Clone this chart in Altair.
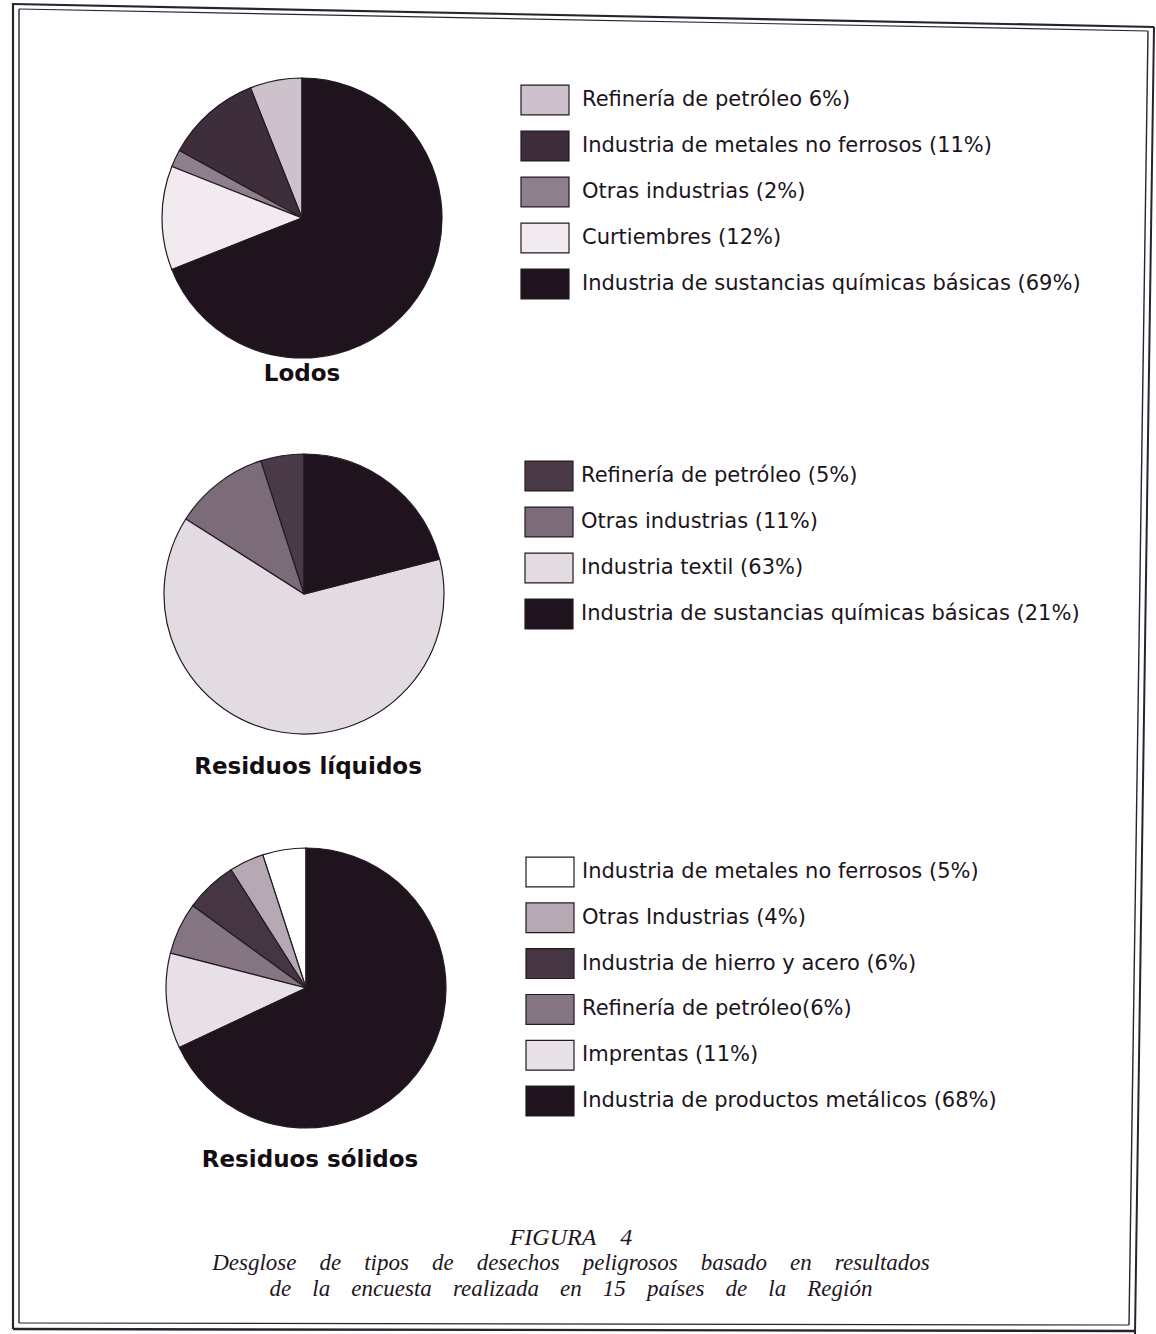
import altair as alt
import pandas as pd

# ---- Lodos ----
lodos_labels = [
    "Refinería de petróleo 6%)",
    "Industria de metales no ferrosos (11%)",
    "Otras industrias (2%)",
    "Curtiembres (12%)",
    "Industria de sustancias químicas básicas (69%)",
]
lodos_shares = [6, 11, 2, 12, 69]
lodos_colors = ["#cdc1cc", "#3e2e3c", "#8e7f8c", "#f1ebf0", "#1f141e"]

# ---- Residuos líquidos ----
liquidos_labels = [
    "Refinería de petróleo (5%)",
    "Otras industrias (11%)",
    "Industria textil (63%)",
    "Industria de sustancias químicas básicas (21%)",
]
liquidos_shares = [5, 11, 63, 21]
liquidos_colors = ["#4a3a48", "#7c6c7a", "#e3dbe2", "#1f141e"]

# ---- Residuos sólidos ----
solidos_labels = [
    "Industria de metales no ferrosos (5%)",
    "Otras Industrias (4%)",
    "Industria de hierro y acero (6%)",
    "Refinería de petróleo(6%)",
    "Imprentas (11%)",
    "Industria de productos metálicos (68%)",
]
solidos_shares = [5, 4, 6, 6, 11, 68]
solidos_colors = ["#ffffff", "#b6a9b4", "#463644", "#867684", "#e7e0e6", "#1f141e"]

INK = "#241a23"
RADIUS = 140
ROW_STEP = 46
SWATCH = "M-1,-0.62H1V0.62H-1Z"


def panel(labels, shares, colors, title, pie_xy, title_xy, swatch_x, text_x, row0, step=ROW_STEP):
    n = len(labels)
    df = pd.DataFrame({
        "label": labels,
        "share": shares,
        "color": colors,
        "row": list(range(n)),
    })
    # slices run clockwise from 12 o'clock, starting with the last legend entry
    df["slice"] = n - 1 - df["row"]
    base = alt.Chart(df)

    pie = base.mark_arc(radius=RADIUS, stroke=INK, strokeWidth=1.2).encode(
        theta=alt.Theta("share:Q", stack=True),
        order=alt.Order("slice:Q", sort="ascending"),
        color=alt.Color("color:N", scale=None),
        x=alt.value(pie_xy[0]),
        y=alt.value(pie_xy[1]),
    )

    rows = alt.Scale(domain=[0, n - 1], range=[row0, row0 + step * (n - 1)])
    swatches = base.mark_point(
        shape=SWATCH, size=2304, filled=True, opacity=1, stroke=INK, strokeWidth=1.2
    ).encode(
        x=alt.value(swatch_x),
        y=alt.Y("row:Q", scale=rows, axis=None),
        fill=alt.Fill("color:N", scale=None),
    )
    texts = base.mark_text(
        align="left", baseline="middle", font="DejaVu Sans", fontSize=21, color="#1c141b"
    ).encode(
        x=alt.value(text_x),
        y=alt.Y("row:Q", scale=rows, axis=None),
        text="label:N",
    )
    heading = alt.Chart(pd.DataFrame({"t": [title]})).mark_text(
        align="center", baseline="middle", font="DejaVu Sans", fontWeight="bold",
        fontSize=23, color="#140d13"
    ).encode(x=alt.value(title_xy[0]), y=alt.value(title_xy[1]), text="t:N")
    return [pie, swatches, texts, heading]


layers = []
layers += panel(lodos_labels, lodos_shares, lodos_colors, "Lodos",
                (302, 218), (302, 374), 545, 582, 100)
layers += panel(liquidos_labels, liquidos_shares, liquidos_colors, "Residuos líquidos",
                (304, 594), (308, 767), 549, 581, 476)
layers += panel(solidos_labels, solidos_shares, solidos_colors, "Residuos sólidos",
                (306, 988), (310, 1160), 550, 582, 872, step=45.8)

# caption (justified lines: widened word gaps)
gap1 = "\u2003"
gap2 = "\u2002\u2004\u200a"
caption_lines = [
    ("FIGURA\u20034", 1238, 24),
    (gap1.join(["Desglose", "de", "tipos", "de", "desechos", "peligrosos",
                "basado", "en", "resultados"]), 1263, 23),
    (gap2.join(["de", "la", "encuesta", "realizada", "en", "15", "países",
                "de", "la", "Región"]), 1289, 23),
]
for txt, ypos, fs in caption_lines:
    layers.append(
        alt.Chart(pd.DataFrame({"t": [txt]})).mark_text(
            align="center", baseline="middle", font="Liberation Serif",
            fontStyle="italic", fontSize=fs, color="#1e161d"
        ).encode(x=alt.value(571), y=alt.value(ypos), text="t:N")
    )

# page frame (double rules)
frame = [
    (13, 13, 3, 1329, 2.2),
    (19, 19, 9, 1323, 1.4),
    (13, 1154, 4, 27, 2.2),
    (19, 1148, 9, 31, 1.2),
    (13, 1135, 1329, 1331, 2.4),
    (19, 1129, 1323, 1325, 1.2),
    (1154, 1135, 27, 1334, 2.0),
    (1148, 1129, 31, 1325, 1.4),
]
one = pd.DataFrame({"k": [0]})
for x1, x2, y1, y2, w in frame:
    layers.append(
        alt.Chart(one).mark_rule(color="#2b2230", strokeWidth=w).encode(
            x=alt.value(x1), x2=alt.value(x2), y=alt.value(y1), y2=alt.value(y2)
        )
    )

chart = (
    alt.layer(*layers)
    .resolve_scale(y="independent", theta="independent")
    .properties(width=1156, height=1334, autosize="none", padding=0, background="white")
    .configure_view(stroke=None)
)

chart.save("out.html", embed_options={"renderer": "svg", "actions": False})
